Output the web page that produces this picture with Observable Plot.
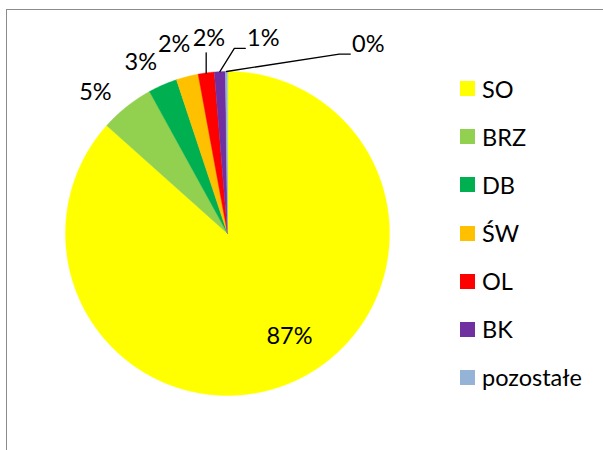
<!DOCTYPE html>
<html><head><meta charset="utf-8">
<script src="https://cdn.jsdelivr.net/npm/d3@7"></script>
<script src="https://cdn.jsdelivr.net/npm/@observablehq/plot@0.6"></script>
<style>
body{margin:0;background:#fff;font-family:Lato,"Noto Sans",sans-serif;}
#wrap{position:relative;width:603px;height:450px;overflow:hidden;background:#fff;}
#frame{position:absolute;left:6px;top:9px;width:700px;height:600px;border:1.5px solid #8c8c8c;}
#chart{position:absolute;left:0;top:0;}
#legend{position:absolute;left:460px;top:64.7px;}
.item{display:flex;align-items:center;height:48.1px;font-size:23.5px;color:#000;}
.sw{width:15px;height:15px;margin-right:7px;flex:none;}
</style></head><body>
<div id="wrap"><div id="frame"></div><div id="chart"></div><div id="legend"></div></div>
<script>
// ---- data ----
const categories = ["SO", "BRZ", "DB", "ŚW", "OL", "BK", "pozostałe"];
const shares = [86.6, 5.4, 2.9, 2.2, 1.6, 1.1, 0.2];
const percentLabels = ["87%", "5%", "3%", "2%", "2%", "1%", "0%"];
const colors = ["#FFFF00", "#92D050", "#00B050", "#FFC000", "#FF0000", "#7030A0", "#95B3D7"];

// ---- layout (label placement, px nudges) ----
const R_PX = 162;
const labelRadius = [0.74, 1.2, 1.2, 1.2, 1.2, 1.2, 1.2];
const labelNudge = [[13, -6], [-11, 11], [-9, 7], [-5, -1], [7, -2], [45, -1], [142, 5]];
const leaderKind = [null, null, null, null, "vertical", "elbow", "elbow"];

const arcs = d3.pie().sort(null).value(d => d).startAngle(0).endAngle(2 * Math.PI)(shares);
const polar = (a, r) => [r * Math.sin(a), r * Math.cos(a)];

// slice polygons
const slicePts = [];
arcs.forEach((a, i) => {
  const cat = categories[i];
  slicePts.push({cat, x: 0, y: 0});
  const n = Math.max(4, Math.ceil((a.endAngle - a.startAngle) / 0.004));
  for (let k = 0; k <= n; k++) {
    const t = a.startAngle + (a.endAngle - a.startAngle) * k / n;
    const [x, y] = polar(t, 1);
    slicePts.push({cat, x, y});
  }
});

// labels
const labels = arcs.map((a, i) => {
  const mid = (a.startAngle + a.endAngle) / 2;
  const [x, y] = polar(mid, labelRadius[i]);
  return {cat: categories[i], text: percentLabels[i], mid,
          x: x + labelNudge[i][0] / R_PX, y: y - labelNudge[i][1] / R_PX};
});

// leader lines
const leaderPts = [];
labels.forEach((l, i) => {
  const kind = leaderKind[i];
  if (!kind) return;
  const [ax, ay] = polar(l.mid, 1);
  if (kind === "vertical") {
    leaderPts.push({id: i, x: ax, y: ay});
    leaderPts.push({id: i, x: ax, y: l.y - 14 / R_PX});
  } else {
    const ex = l.x - 18 / R_PX, ey = l.y - 10 / R_PX;
    leaderPts.push({id: i, x: ax, y: ay});
    leaderPts.push({id: i, x: ex - 11 / R_PX, y: ey});
    leaderPts.push({id: i, x: ex, y: ey});
  }
});

const chart = Plot.plot({
  width: 603, height: 450,
  marginLeft: 65, marginRight: 214, marginTop: 71, marginBottom: 55,
  x: {domain: [-1, 1], axis: null},
  y: {domain: [-1, 1], axis: null},
  color: {domain: categories, range: colors},
  style: {fontFamily: "Lato, 'Noto Sans', sans-serif", background: "transparent"},
  marks: [
    Plot.line(slicePts, {x: "x", y: "y", z: "cat", fill: "cat", stroke: "cat", strokeWidth: 0.4, curve: "linear-closed"}),
    Plot.line(leaderPts, {x: "x", y: "y", z: "id", stroke: "#000", strokeWidth: 1.3}),
    Plot.text(labels, {x: "x", y: "y", text: "text", fontSize: 23.5, fill: "#000", textAnchor: "middle", lineAnchor: "middle"})
  ]
});
document.getElementById("chart").appendChild(chart);

// legend
const leg = document.getElementById("legend");
categories.forEach((c, i) => {
  const it = document.createElement("div");
  it.className = "item";
  const sw = document.createElement("span");
  sw.className = "sw";
  sw.style.background = colors[i];
  const tx = document.createElement("span");
  tx.textContent = c;
  it.appendChild(sw); it.appendChild(tx);
  leg.appendChild(it);
});
</script>
</body></html>
